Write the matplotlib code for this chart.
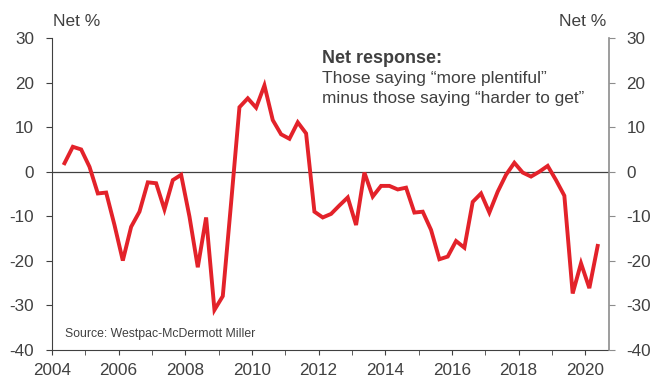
import matplotlib
matplotlib.use("Agg")
import matplotlib.pyplot as plt
from matplotlib.ticker import MultipleLocator

plt.rcParams['font.family'] = ['Liberation Sans', 'DejaVu Sans']
plt.rcParams['axes.unicode_minus'] = False

# Quarterly dates (decimal years) and net % values
start_year = 2004.375
values = [1.9, 5.6, 5.0, 1.1, -4.9, -4.7, -12.0, -20.0, -12.4, -9.0,
          -2.4, -2.6, -8.5, -1.9, -0.7, -10.1, -21.5, -10.3, -31.1, -28.0,
          -7.0, 14.5, 16.5, 14.4, 19.4, 11.6, 8.4, 7.4, 11.1, 8.6,
          -9.0, -10.3, -9.5, -7.6, -5.8, -12.0, -0.2, -5.6, -3.2, -3.2,
          -4.0, -3.6, -9.2, -9.0, -13.1, -19.7, -19.1, -15.6, -17.1, -6.8,
          -4.9, -9.2, -4.5, -0.7, 2.0, -0.2, -1.1, 0.0, 1.3, -1.9,
          -5.4, -27.4, -20.6, -26.2, -16.7]
dates = [start_year + 0.25 * i for i in range(len(values))]

x_ticks = [2004, 2006, 2008, 2010, 2012, 2014, 2016, 2018, 2020]
y_ticks = [30, 20, 10, 0, -10, -20, -30, -40]

text_col = '#404040'

fig = plt.figure(figsize=(6.52, 3.78), dpi=100)
ax = fig.add_axes([52/652, 1 - 349.5/378, (608.5 - 52)/652, (349.5 - 38.3)/378])

ax.axhline(0, color='#404040', lw=0.9, zorder=1)
ax.plot(dates, values, color='#E3222A', lw=2.8, solid_joinstyle='miter', zorder=3)

ax.set_xlim(2004, 2020.7)
ax.set_ylim(-40, 30)
ax.set_xticks(x_ticks)
ax.xaxis.set_minor_locator(MultipleLocator(1))
ax.set_yticks(y_ticks)

ax.spines['top'].set_visible(False)
ax.spines['right'].set_visible(False)
ax.spines['left'].set_color('#404040')
ax.spines['bottom'].set_color('#404040')
ax.tick_params(axis='x', which='both', direction='out', length=3.5, color='#404040',
               labelsize=12.3, labelcolor=text_col, pad=6)
ax.tick_params(axis='y', direction='out', length=4, color='#404040',
               labelsize=12.3, labelcolor=text_col, pad=9)

ax2 = ax.twinx()
ax2.set_ylim(-40, 30)
ax2.set_yticks(y_ticks)
for s in ['top', 'left', 'bottom']:
    ax2.spines[s].set_visible(False)
ax2.spines['right'].set_color('#8c8c8c')
ax2.spines['right'].set_linewidth(1.2)
ax2.tick_params(axis='y', direction='out', length=4, color='#8c8c8c',
                labelsize=12.3, labelcolor=text_col, pad=9)

fig.text(53/652, 1 - 22/378, 'Net %', fontsize=12.5, color=text_col, va='center', ha='left')
fig.text(606/652, 1 - 22/378, 'Net %', fontsize=12.5, color=text_col, va='center', ha='right')

fig.text(322/652, 1 - 62.7/378, 'Net response:', fontsize=13, fontweight='bold',
         color=text_col, va='baseline', ha='left')
fig.text(322/652, 1 - 83.3/378, 'Those saying \u201cmore plentiful\u201d', fontsize=12.5,
         color=text_col, va='baseline', ha='left')
fig.text(322/652, 1 - 103.5/378, 'minus those saying \u201charder to get\u201d', fontsize=12.4,
         color=text_col, va='baseline', ha='left')

fig.text(65/652, 1 - 336.7/378, 'Source: Westpac-McDermott Miller', fontsize=8.8,
         color=text_col, va='baseline', ha='left')

fig.savefig('out.png', dpi=100)
